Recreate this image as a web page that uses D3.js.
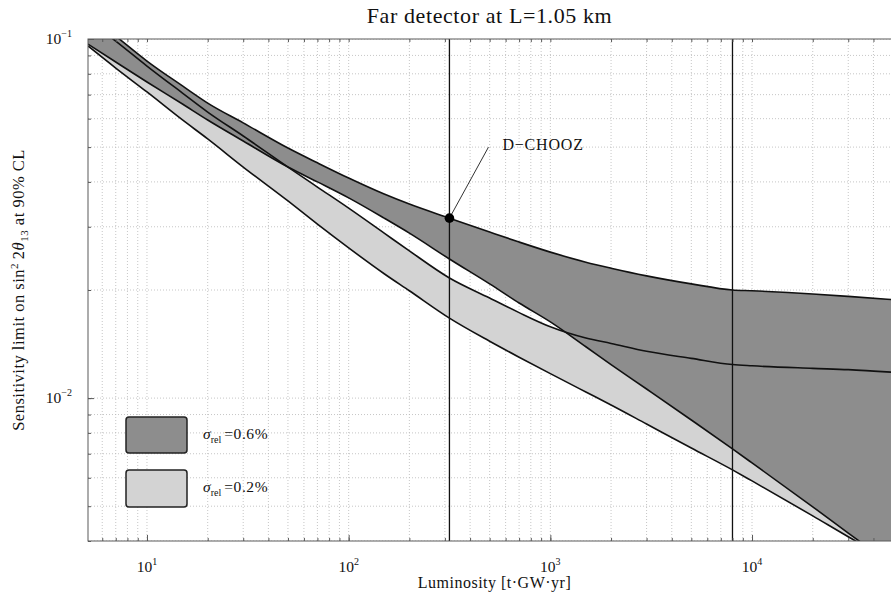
<!DOCTYPE html>
<html>
<head>
<meta charset="utf-8">
<script src="https://cdn.jsdelivr.net/npm/d3@7"></script>
<style>
  body { margin: 0; background: #fff; }
  svg text { font-family: "Liberation Serif", "Times New Roman", serif; fill: #111; }
</style>
</head>
<body>
<svg id="chart" width="891" height="596"></svg>
<script>
// Luminosity grid [t·GW·yr] on which the four sensitivity curves are sampled
const luminosity = [5.1, 7, 10, 15, 20, 30, 50, 70, 100, 150, 200, 316, 500, 700,
                    1000, 1500, 2000, 3000, 5000, 8000, 10000, 20000, 30000, 50000];

// sigma_rel = 0.6 % band: upper and lower edge of the sin^2 2theta13 limit
const sigma06Upper = [0.1174, 0.1019, 0.0868, 0.0740, 0.0663, 0.0584, 0.0497, 0.0452,
                      0.0410, 0.0370, 0.0347, 0.0317, 0.0290, 0.0272, 0.0255, 0.0239,
                      0.0230, 0.0219, 0.0208, 0.0200, 0.0199, 0.0195, 0.0192, 0.0188];
const sigma06Lower = [0.0968, 0.0863, 0.0759, 0.0659, 0.0595, 0.0520, 0.0440, 0.0400,
                      0.0361, 0.0317, 0.0288, 0.0244, 0.0208, 0.0184, 0.0163, 0.0139,
                      0.0124, 0.0106, 0.00869, 0.00722, 0.00660, 0.00498, 0.00421, 0.00341];

// sigma_rel = 0.2 % band
const sigma02Upper = [0.1130, 0.0987, 0.0841, 0.0707, 0.0626, 0.0537, 0.0440, 0.0387,
                      0.0338, 0.0288, 0.0257, 0.0216, 0.0190, 0.0173, 0.0158, 0.0147,
                      0.0142, 0.0135, 0.0129, 0.0124, 0.0123, 0.0121, 0.0120, 0.0118];
const sigma02Lower = [0.0956, 0.0830, 0.0712, 0.0595, 0.0527, 0.0440, 0.0354, 0.0305,
                      0.0262, 0.0222, 0.0199, 0.0167, 0.0144, 0.0130, 0.0117, 0.0104,
                      0.00957, 0.00847, 0.00726, 0.00631, 0.00588, 0.00470, 0.00411, 0.00350];

// Reference luminosities marked by vertical lines, and the D-CHOOZ point
const markerLuminosity = [316, 8000];
const dchoozLuminosity = 316;
const dchoozLimit = 0.0317;
const dchoozLabel = "D\u2212CHOOZ";

// Axis decades and texts
const xMajorTicks = [10, 100, 1000, 10000];
const xTickExponents = ["1", "2", "3", "4"];
const yMajorTicks = [0.01, 0.1];
const yTickExponents = ["\u22122", "\u22121"];
const legendValues = ["0.6%", "0.2%"];
const titleText = "Far detector at L=1.05 km";
const xTitleText = "Luminosity [t\u00b7GW\u00b7yr]";

// ---- layout ----
const W = 891, H = 596;
const plot = { left: 88, right: 893, top: 39, bottom: 541 };
const colors = { dark: "#8d8d8d", light: "#d3d3d3", grid: "#b8b8b8", frame: "#5a5a5a" };

const svg = d3.select("#chart");

const x = d3.scaleLog().domain([5.1, 50000]).range([plot.left, plot.right]);
const y = d3.scaleLog().domain([0.004, 0.1]).range([plot.bottom, plot.top]);

svg.append("defs").append("clipPath").attr("id", "plotArea")
  .append("rect")
  .attr("x", plot.left).attr("y", plot.top)
  .attr("width", plot.right - plot.left).attr("height", plot.bottom - plot.top);

// grid positions: every 1..9 x 10^k inside the domain
const xGrid = [];
for (let k = 0; k <= 4; k++) for (let m = 1; m <= 9; m++) {
  const v = m * Math.pow(10, k);
  if (v > 5.1 && v < 50000) xGrid.push(v);
}
const yGrid = [];
for (let k = -3; k <= -1; k++) for (let m = 1; m <= 9; m++) {
  const v = +(m * Math.pow(10, k)).toPrecision(3);
  if (v >= 0.004 && v <= 0.1) yGrid.push(v);
}

const grid = svg.append("g").attr("clip-path", "url(#plotArea)");
grid.selectAll("line.gx").data(xGrid).join("line")
  .attr("x1", d => x(d)).attr("x2", d => x(d))
  .attr("y1", plot.top).attr("y2", plot.bottom)
  .attr("stroke", colors.grid).attr("stroke-width", 0.8).attr("stroke-dasharray", "1,2");
grid.selectAll("line.gy").data(yGrid).join("line")
  .attr("x1", plot.left).attr("x2", plot.right)
  .attr("y1", d => y(d)).attr("y2", d => y(d))
  .attr("stroke", colors.grid).attr("stroke-width", 0.8).attr("stroke-dasharray", "1,2");

// ---- bands ----
const rows = luminosity.map((L, i) => ({
  L, u6: sigma06Upper[i], l6: sigma06Lower[i], u2: sigma02Upper[i], l2: sigma02Lower[i]
}));

const bands = svg.append("g").attr("clip-path", "url(#plotArea)");
const area = (lo, hi) => d3.area()
  .x(d => x(d.L)).y0(d => y(d[lo])).y1(d => y(d[hi]))
  .curve(d3.curveMonotoneX);
const line = key => d3.line()
  .x(d => x(d.L)).y(d => y(d[key]))
  .curve(d3.curveMonotoneX);

bands.append("path").datum(rows).attr("d", area("l2", "u2")).attr("fill", colors.light);
bands.append("path").datum(rows).attr("d", area("l6", "u6")).attr("fill", colors.dark);

["u6", "l6", "u2", "l2"].forEach(k => {
  bands.append("path").datum(rows).attr("d", line(k))
    .attr("fill", "none").attr("stroke", "#111").attr("stroke-width", 1.6);
});

// vertical marker lines
bands.selectAll("line.marker").data(markerLuminosity).join("line")
  .attr("x1", d => x(d)).attr("x2", d => x(d))
  .attr("y1", plot.top).attr("y2", plot.bottom)
  .attr("stroke", "#111").attr("stroke-width", 1.3);

// ---- frame and ticks ----
svg.append("rect")
  .attr("x", plot.left).attr("y", plot.top)
  .attr("width", plot.right - plot.left).attr("height", plot.bottom - plot.top)
  .attr("fill", "none").attr("stroke", colors.frame).attr("stroke-width", 1);

function styleAxis(g) {
  g.select(".domain").remove();
  g.selectAll(".tick line").attr("stroke", colors.frame).attr("stroke-width", 1);
  g.selectAll(".tick text").remove();
}
svg.append("g").attr("transform", `translate(0,${plot.bottom})`)
  .call(d3.axisBottom(x).tickValues(xGrid).tickSize(-3).tickFormat("")).call(styleAxis);
svg.append("g").attr("transform", `translate(0,${plot.bottom})`)
  .call(d3.axisBottom(x).tickValues(xMajorTicks).tickSize(-6).tickFormat("")).call(styleAxis);
svg.append("g").attr("transform", `translate(0,${plot.top})`)
  .call(d3.axisTop(x).tickValues(xGrid).tickSize(-3).tickFormat("")).call(styleAxis);
svg.append("g").attr("transform", `translate(${plot.left},0)`)
  .call(d3.axisLeft(y).tickValues(yGrid).tickSize(-3).tickFormat("")).call(styleAxis);
svg.append("g").attr("transform", `translate(${plot.left},0)`)
  .call(d3.axisLeft(y).tickValues(yMajorTicks).tickSize(-6).tickFormat("")).call(styleAxis);

// tick labels as 10^n
xMajorTicks.forEach((v, i) => {
  const t = svg.append("text")
    .attr("x", x(v)).attr("y", plot.bottom + 31)
    .attr("text-anchor", "middle").attr("font-size", 15.5);
  t.append("tspan").text("10");
  t.append("tspan").attr("font-size", 10).attr("dy", -7).text(xTickExponents[i]);
});
yMajorTicks.forEach((v, i) => {
  const t = svg.append("text")
    .attr("x", plot.left - 16).attr("y", y(v) + 5)
    .attr("text-anchor", "end").attr("font-size", 15.5);
  t.append("tspan").text("10");
  t.append("tspan").attr("font-size", 10).attr("dy", -7).text(yTickExponents[i]);
});

// ---- titles ----
svg.append("text")
  .attr("x", (plot.left + plot.right) / 2 - 1).attr("y", 23)
  .attr("text-anchor", "middle").attr("font-size", 22).attr("letter-spacing", 0.6)
  .text(titleText);

svg.append("text")
  .attr("x", (plot.left + plot.right) / 2 + 4).attr("y", 588)
  .attr("text-anchor", "middle").attr("font-size", 16).attr("letter-spacing", 0.5)
  .text(xTitleText);

const yt = svg.append("text")
  .attr("transform", `translate(24,${(plot.top + plot.bottom) / 2}) rotate(-90)`)
  .attr("text-anchor", "middle").attr("font-size", 16.5).attr("letter-spacing", 0.5);
yt.append("tspan").text("Sensitivity limit on sin");
yt.append("tspan").attr("font-size", 11).attr("dy", -6).text("2");
yt.append("tspan").attr("dy", 6).text("\u20092");
yt.append("tspan").attr("font-style", "italic").text("\u03b8");
yt.append("tspan").attr("font-size", 11).attr("dy", 4).text("13");
yt.append("tspan").attr("dy", -4).text(" at 90% CL");

// ---- D-CHOOZ marker ----
const dx0 = x(dchoozLuminosity), dy0 = y(dchoozLimit);
svg.append("line")
  .attr("x1", dx0).attr("y1", dy0).attr("x2", dx0 + 39).attr("y2", dy0 - 71)
  .attr("stroke", "#333").attr("stroke-width", 1);
svg.append("circle").attr("cx", dx0).attr("cy", dy0).attr("r", 4.8).attr("fill", "#000");
svg.append("text")
  .attr("x", dx0 + 53).attr("y", dy0 - 68)
  .attr("font-size", 16).attr("letter-spacing", 0.8)
  .text(dchoozLabel);

// ---- legend ----
const legend = svg.append("g");
const legendRows = [
  { fill: colors.dark, top: 417, h: 36, value: legendValues[0] },
  { fill: colors.light, top: 470, h: 37, value: legendValues[1] }
];
legendRows.forEach(r => {
  legend.append("rect")
    .attr("x", 126).attr("y", r.top).attr("width", 61).attr("height", r.h)
    .attr("rx", 3).attr("fill", r.fill).attr("stroke", "#222").attr("stroke-width", 1.5);
  const t = legend.append("text")
    .attr("x", 203).attr("y", r.top + 22).attr("font-size", 15.5);
  t.append("tspan").attr("font-style", "italic").text("\u03c3");
  t.append("tspan").attr("font-size", 10).attr("dy", 4).text("rel");
  t.append("tspan").attr("dy", -4).attr("dx", 3).attr("letter-spacing", 0.6).text("=" + r.value);
});
</script>
</body>
</html>
